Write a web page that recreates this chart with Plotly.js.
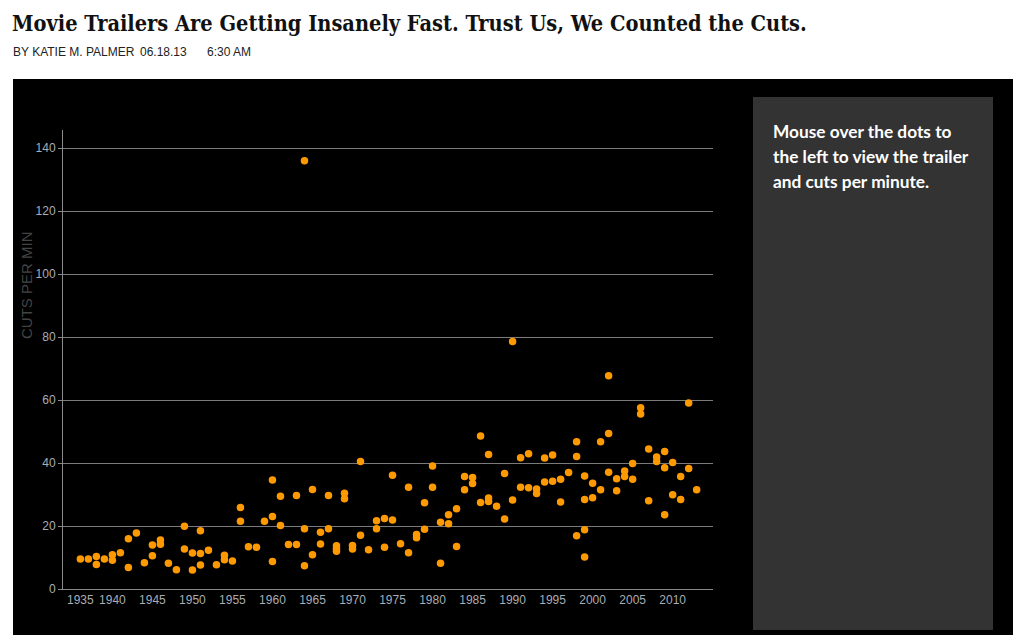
<!DOCTYPE html>
<html>
<head>
<meta charset="utf-8">
<script src="https://cdn.plot.ly/plotly-3.0.1.min.js"></script>
<style>html,body{margin:0;padding:0;background:#fff;}#chart{width:1022px;height:641px;}</style>
</head>
<body>
<div id="chart"></div>
<script>
// ---- data (year of trailer, cuts per minute) ----
const years = [
  1935, 1936, 1938, 1938, 1939, 1940, 1940, 1941, 1942, 1942, 1943, 1944, 1945, 1945,
  1946, 1946, 1947, 1948, 1949, 1949, 1950, 1950, 1951, 1951, 1951, 1952, 1953, 1954, 1954,
  1955, 1956, 1956, 1957, 1958, 1959, 1960, 1960, 1960, 1961, 1961, 1962, 1963, 1963,
  1964, 1964, 1964, 1965, 1965, 1966, 1966, 1967, 1967, 1968, 1968, 1968, 1969, 1969,
  1970, 1970, 1971, 1971, 1972, 1973, 1973, 1974, 1974, 1975, 1975, 1976, 1977, 1977,
  1978, 1978, 1979, 1979, 1980, 1980, 1981, 1981, 1982, 1982, 1983, 1983, 1984, 1984,
  1985, 1985, 1986, 1986, 1987, 1987, 1987, 1988, 1989, 1989, 1990, 1990, 1991, 1991,
  1992, 1992, 1993, 1993, 1994, 1994, 1995, 1995, 1996, 1996, 1997, 1998, 1998, 1998,
  1999, 1999, 1999, 1999, 2000, 2000, 2001, 2001, 2002, 2002, 2002, 2003, 2003, 2004, 2004,
  2005, 2005, 2006, 2006, 2007, 2007, 2008, 2008, 2009, 2009, 2009, 2010, 2010, 2011, 2011,
  2012, 2012, 2013
];
const cutsPerMin = [
  9.5, 9.5, 10.3, 7.8, 9.5, 10.9, 9.1, 11.5, 16.0, 6.8, 17.8, 8.3, 14.0, 10.6,
  15.6, 14.2, 8.2, 6.1, 19.9, 12.7, 11.4, 6.0, 18.5, 11.3, 7.6, 12.3, 7.7, 10.7, 9.3,
  8.9, 25.9, 21.5, 13.4, 13.3, 21.5, 34.6, 23.0, 8.7, 29.5, 20.2, 14.1, 29.7, 14.1,
  136.0, 19.1, 7.4, 31.6, 10.9, 18.0, 14.3, 29.7, 19.1, 13.7, 12.8, 12.0, 30.4, 28.7,
  13.8, 12.7, 40.5, 17.1, 12.5, 21.7, 19.1, 22.4, 13.3, 36.1, 21.9, 14.4, 32.3, 11.5,
  17.3, 16.3, 27.4, 19.0, 39.1, 32.3, 21.2, 8.2, 23.6, 20.7, 25.5, 13.5, 35.7, 31.5,
  35.4, 33.5, 48.6, 27.5, 42.7, 28.9, 27.8, 26.3, 36.7, 22.2, 78.6, 28.3, 41.7, 32.3,
  43.0, 32.2, 31.8, 30.3, 41.6, 34.0, 42.6, 34.2, 34.9, 27.6, 37.0, 46.8, 42.1, 16.9,
  35.9, 28.4, 18.8, 10.2, 33.6, 29.0, 46.8, 31.5, 67.7, 49.4, 37.1, 35.0, 31.2, 37.5, 35.7,
  39.9, 34.9, 57.6, 55.6, 44.5, 28.0, 41.9, 40.5, 43.7, 38.5, 23.6, 40.2, 29.9, 35.7, 28.4,
  59.1, 38.3, 31.5
];
const tickYears = ["1935","1940","1945","1950","1955","1960","1965","1970","1975","1980","1985","1990","1995","2000","2005","2010"];
const yTicks = [0, 20, 40, 60, 80, 100, 120, 140];

const titleText = "Movie Trailers Are Getting Insanely Fast. Trust Us, We Counted the Cuts.";
const bylineAuthor = "BY KATIE M. PALMER";
const bylineDate = "06.18.13";
const bylineTime = "6:30 AM";
const yTitle = "CUTS PER MIN";
const sideLines = ["Mouse over the dots to", "the left to view the trailer", "and cuts per minute."];

// ordinal year axis built from the years present in the data
const categories = Array.from(new Set(years)).sort((a, b) => a - b).map(String);

// ---- layout helpers (pixel -> paper) ----
const W = 1022, H = 641, L = 63, R = 713, T = 130, B = 589;
const px = v => (v - L) / (R - L);
const py = v => (B - v) / (B - T);

const trace = {
  type: "scatter",
  mode: "markers",
  x: years.map(String),
  y: cutsPerMin,
  marker: { color: "#ff9900", size: 7.5, line: { width: 0 } },
  hoverinfo: "x+y"
};

const tickFont = { family: "Liberation Sans Narrow, Liberation Sans, Arial, sans-serif", size: 12, color: "#a9adb3" };
const bylineFont = { family: "Liberation Sans, Arial, sans-serif", size: 12, color: "#222" };

const layout = {
  width: W, height: H,
  margin: { l: L, r: W - R, t: T, b: H - B, pad: 0 },
  paper_bgcolor: "#ffffff",
  plot_bgcolor: "rgba(0,0,0,0)",
  showlegend: false,
  title: {
    text: titleText,
    x: 12 / W, xanchor: "left", xref: "container",
    y: 1 - 23 / H, yanchor: "middle", yref: "container",
    font: { family: "DejaVu Serif Condensed, DejaVu Serif, serif", size: 21.6, weight: "bold", color: "#111" }
  },
  xaxis: {
    type: "category",
    categoryorder: "array",
    categoryarray: categories,
    range: [-2.17, 79.04],
    tickvals: tickYears,
    ticktext: tickYears,
    ticks: "",
    showgrid: false,
    zeroline: false,
    showline: true,
    linecolor: "#8a8a8a",
    linewidth: 1,
    tickfont: tickFont,
    fixedrange: true
  },
  yaxis: {
    range: [0, 145.8],
    tickvals: yTicks,
    ticks: "outside",
    ticklen: 4,
    tickcolor: "#8a8a8a",
    showgrid: true,
    gridcolor: "#7a7a7a",
    gridwidth: 1,
    zeroline: false,
    showline: true,
    linecolor: "#8a8a8a",
    linewidth: 1,
    tickfont: tickFont,
    fixedrange: true
  },
  shapes: [
    { type: "rect", xref: "paper", yref: "paper", layer: "below",
      x0: px(13), x1: px(1013), y0: py(635), y1: py(79),
      fillcolor: "#000000", line: { width: 0 } },
    { type: "rect", xref: "paper", yref: "paper", layer: "below",
      x0: px(753), x1: px(993), y0: py(630), y1: py(97),
      fillcolor: "#333333", line: { width: 0 } }
  ],
  annotations: [
    { text: bylineAuthor, xref: "paper", yref: "paper", x: px(11), y: py(52),
      xanchor: "left", yanchor: "middle", showarrow: false, font: bylineFont },
    { text: bylineDate, xref: "paper", yref: "paper", x: px(138), y: py(52),
      xanchor: "left", yanchor: "middle", showarrow: false, font: bylineFont },
    { text: bylineTime, xref: "paper", yref: "paper", x: px(205), y: py(52),
      xanchor: "left", yanchor: "middle", showarrow: false, font: bylineFont },
    { text: yTitle, xref: "paper", yref: "paper", x: px(26), y: py(285),
      xanchor: "center", yanchor: "middle", textangle: -90, showarrow: false,
      font: { family: "Liberation Sans, Arial, sans-serif", size: 15, color: "#444" } }
  ].concat(sideLines.map((t, i) => ({
      text: t, xref: "paper", yref: "paper", x: px(771), y: py(132 + i * 24.5),
      xanchor: "left", yanchor: "middle", showarrow: false,
      font: { family: "Lato, Open Sans, sans-serif", size: 17.3, weight: "bold", color: "#ffffff" }
  })))
};

Plotly.newPlot("chart", [trace], layout, { displayModeBar: false, staticPlot: true });
</script>
</body>
</html>
